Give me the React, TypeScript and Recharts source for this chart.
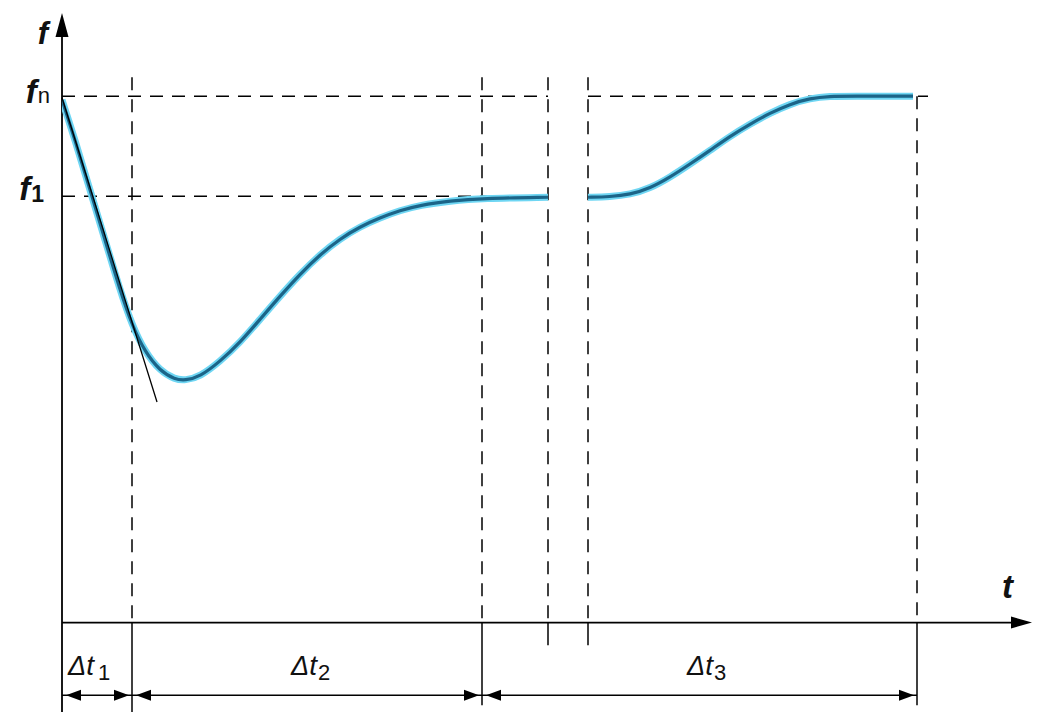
import React from "react";
import { LineChart, Line, XAxis, YAxis, ReferenceLine, ReferenceDot } from "recharts";

// t in arbitrary time units, f scaled so that fn = 100
const curveT = [
  0, 1.3, 2.8, 4.3, 5.8, 7, 8.3, 9.8, 11.3, 12.3, 13.8, 15.8, 17.8, 19.8, 21.8, 23.8, 25.8, 27.8, 29.8, 31.8,
  33.8, 35.8, 38.8, 42, 48.6, 50.6, 52.6, 54.8, 56.8, 58.8, 60.8, 62.8, 64.8, 66.8, 68.8, 70.8, 72.8, 74.8, 76.8,
  78.8, 85.1,
];
const curveF = [
  99.3, 91.7, 82.2, 72.7, 63.2, 56.5, 51.4, 47.8, 46.2, 46.0, 46.7, 49.6, 53.2, 57.6, 62.0, 66.2, 69.9, 72.9, 75.2,
  76.9, 78.3, 79.3, 80.1, 80.6, 80.8, null, 80.8, 80.9, 81.3, 82.5, 84.6, 87.1, 89.7, 92.4, 94.7, 96.8, 98.5, 99.6,
  100, 100, 100,
];

const F_N = 100;
const F_1 = 81;

// the three intervals shown under the time axis
const intervalStart = [0, 7, 42];
const intervalEnd = [7, 42, 85.5];
const intervalNames = ["1", "2", "3"];

// the axis break
const breakT = [48.6, 52.6];

// tangent at the start of the drop
const tangentT = [0, 9.5];
const tangentF = [99.7, 41.9];

const data = curveT.map((t, i) => ({ t, f: curveF[i] }));

const FONT = "'Liberation Sans', Arial, sans-serif";
const DASH = "13 9";
const ARROW_Y = -13.8;

const head =
  (dir: "left" | "right" | "up", len: number, half: number) =>
  (p: any) => {
    const { cx, cy } = p;
    let pts = "";
    if (dir === "left") pts = `${cx},${cy} ${cx + len},${cy - half} ${cx + len},${cy + half}`;
    if (dir === "right") pts = `${cx},${cy} ${cx - len},${cy - half} ${cx - len},${cy + half}`;
    if (dir === "up") pts = `${cx},${cy} ${cx - half},${cy + len} ${cx + half},${cy + len}`;
    return <polygon points={pts} fill="#000" />;
  };

const label = (children: React.ReactNode, anchor: "start" | "end" | "middle" = "start") => (p: any) => (
  <text x={p.cx} y={p.cy} textAnchor={anchor} fontFamily={FONT} fill="#111">
    {children}
  </text>
);

// vertical guides: [t, top f, bottom f]
const guides: [number, number, number][] = [
  [intervalEnd[0], 103.6, -17],
  [intervalEnd[1], 103.6, -15.7],
  [breakT[0], 103.6, -4.3],
  [breakT[1], 103.6, -4.3],
  [intervalEnd[2], F_N, -15.7],
];

const labelX = [0.6, 22.9, 62.5];

export default function App() {
  return (
    <div style={{ position: "absolute", left: 0, top: 0, background: "#fff" }}>
      <LineChart width={1040} height={712} data={data} margin={{ top: 12, right: 8, left: 62, bottom: 0 }}>
        <XAxis dataKey="t" type="number" domain={[0, 97]} hide allowDataOverflow />
        <YAxis type="number" domain={[-17, 116]} hide allowDataOverflow />

        {/* horizontal dashed levels */}
        <ReferenceLine segment={[{ x: 0, y: F_N }, { x: breakT[0], y: F_N }]} stroke="#000" strokeWidth={1.5} strokeDasharray={DASH} ifOverflow="visible" />
        <ReferenceLine segment={[{ x: breakT[1], y: F_N }, { x: 86.6, y: F_N }]} stroke="#000" strokeWidth={1.5} strokeDasharray={DASH} ifOverflow="visible" />
        <ReferenceLine segment={[{ x: 0, y: F_1 }, { x: breakT[0], y: F_1 }]} stroke="#000" strokeWidth={1.5} strokeDasharray={DASH} ifOverflow="visible" />

        {/* vertical dashed guides and their solid ticks below the axis */}
        {guides.map(([t, top]) => (
          <ReferenceLine key={"d" + t} segment={[{ x: t, y: top }, { x: t, y: 0 }]} stroke="#000" strokeWidth={1.5} strokeDasharray={DASH} ifOverflow="visible" />
        ))}
        {guides.map(([t, , bottom]) => (
          <ReferenceLine key={"s" + t} segment={[{ x: t, y: 0 }, { x: t, y: bottom }]} stroke="#000" strokeWidth={1.5} ifOverflow="visible" />
        ))}

        {/* axes */}
        <ReferenceLine segment={[{ x: 0, y: -17 }, { x: 0, y: 112 }]} stroke="#000" strokeWidth={1.8} ifOverflow="visible" />
        <ReferenceDot x={0} y={115.8} r={0} shape={head("up", 24, 6.5)} ifOverflow="visible" />
        <ReferenceLine segment={[{ x: 0, y: 0 }, { x: 95.5, y: 0 }]} stroke="#000" strokeWidth={1.8} ifOverflow="visible" />
        <ReferenceDot x={97} y={0} r={0} shape={head("right", 21, 6)} ifOverflow="visible" />

        {/* interval arrows */}
        {intervalStart.map((s, i) => (
          <ReferenceLine key={"a" + i} segment={[{ x: s, y: ARROW_Y }, { x: intervalEnd[i], y: ARROW_Y }]} stroke="#000" strokeWidth={1.5} ifOverflow="visible" />
        ))}
        {intervalStart.map((s, i) => (
          <ReferenceDot key={"hl" + i} x={s + 0.4} y={ARROW_Y} r={0} shape={head("left", 15, 5.5)} ifOverflow="visible" />
        ))}
        {intervalEnd.map((e, i) => (
          <ReferenceDot key={"hr" + i} x={e - 0.3} y={ARROW_Y} r={0} shape={head("right", 15, 5.5)} ifOverflow="visible" />
        ))}

        {/* response curve: cyan halo + dark core */}
        <Line dataKey="f" type="basis" stroke="#6fd6f3" strokeWidth={7} dot={false} isAnimationActive={false} strokeLinecap="butt" />
        <Line dataKey="f" type="basis" stroke="#1b6488" strokeWidth={3.2} dot={false} isAnimationActive={false} strokeLinecap="butt" />

        {/* tangent */}
        <ReferenceLine
          segment={[{ x: tangentT[0], y: tangentF[0] }, { x: tangentT[1], y: tangentF[1] }]}
          stroke="#000"
          strokeWidth={1.3}
          ifOverflow="visible"
        />

        {/* axis labels */}
        <ReferenceDot
          x={-1.4}
          y={109.9}
          r={0}
          ifOverflow="visible"
          shape={label(<tspan fontSize={31} fontWeight="bold" fontStyle="italic">f</tspan>, "end")}
        />
        <ReferenceDot
          x={-1.2}
          y={98.7}
          r={0}
          ifOverflow="visible"
          shape={label(
            <>
              <tspan fontSize={33} fontWeight="bold" fontStyle="italic">f</tspan>
              <tspan fontSize={22} dx={1}>n</tspan>
            </>,
            "end"
          )}
        />
        <ReferenceDot
          x={-1.8}
          y={80.2}
          r={0}
          ifOverflow="visible"
          shape={label(
            <>
              <tspan fontSize={33} fontWeight="bold" fontStyle="italic">f</tspan>
              <tspan fontSize={23} fontWeight="bold" dx={1} dy={2}>1</tspan>
            </>,
            "end"
          )}
        />
        <ReferenceDot
          x={94.0}
          y={4.65}
          r={0}
          ifOverflow="visible"
          shape={label(<tspan fontSize={33} fontWeight="bold" fontStyle="italic">t</tspan>)}
        />

        {/* interval labels */}
        {intervalNames.map((n, i) => (
          <ReferenceDot
            key={"l" + i}
            x={labelX[i]}
            y={-10}
            r={0}
            ifOverflow="visible"
            shape={label(
              <>
                <tspan fontSize={27} fontStyle="italic">Δ</tspan>
                <tspan fontSize={28} fontStyle="italic">t</tspan>
                <tspan fontSize={22} dx={i === 0 ? 4 : 1} dy={5}>{n}</tspan>
              </>
            )}
          />
        ))}
      </LineChart>
    </div>
  );
}
